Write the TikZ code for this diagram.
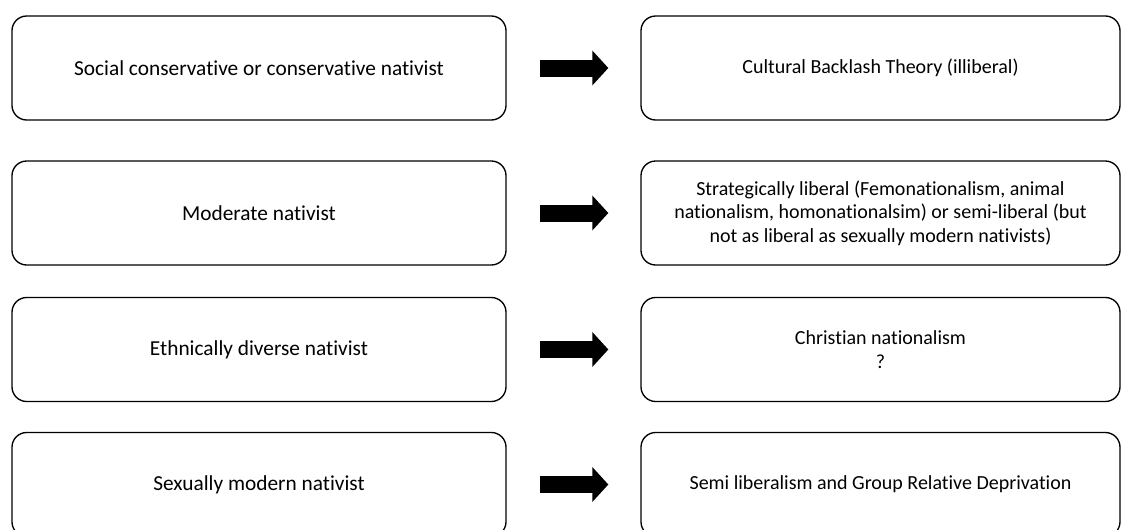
\documentclass[tikz,border=0pt]{standalone}
\usepackage{fontspec}
\setmainfont[Ligatures={NoCommon,NoRequired,NoContextual}]{Carlito}
\usepackage{tikz}
\usetikzlibrary{arrows.meta}
\tikzstyle{leftbox} = [draw=black, line width=1pt, rounded corners=11pt, minimum width=370.5pt, minimum height=78pt, inner sep=0pt, align=center, font=\fontsize{16}{17}\selectfont]
\tikzstyle{rightbox} = [leftbox, minimum width=359.25pt, font=\fontsize{15}{17.5}\selectfont]
\tikzstyle{bigarrow} = [black, line width=12.75pt, -{Triangle[length=12pt, width=25.5pt]}, shorten <=24.75pt, shorten >=24pt]

\begin{document}
\begin{tikzpicture}[x=0.75pt, y=-0.75pt]
\useasboundingbox (0,0) rectangle (1122,529);

\node[leftbox] (l1) at (259,68) {Social conservative or conservative nativist};
\node[leftbox] (l2) at (259,213) {Moderate nativist};
\node[leftbox] (l3) at (259,349.5) {Ethnically diverse nativist};
\node[leftbox] (l4) at (259,484.5) {Sexually modern nativist};

\node[rightbox] (r1) at (880.5,68) {Cultural Backlash Theory (illiberal)};
\node[rightbox] (r2) at (880.5,213) {Strategically liberal (Femonationalism, animal\\nationalism, homonationalsim) or semi-liberal (but\\not as liberal as sexually modern nativists)};
\node[rightbox] (r3) at (880.5,349.5) {Christian nationalism\\?};
\node[rightbox] (r4) at (880.5,484.5) {Semi liberalism and Group Relative Deprivation};

\draw[bigarrow] (l1) to (r1);
\draw[bigarrow] (l2) to (r2);
\draw[bigarrow] (l3) to (r3);
\draw[bigarrow] (l4) to (r4);

\end{tikzpicture}
\end{document}
